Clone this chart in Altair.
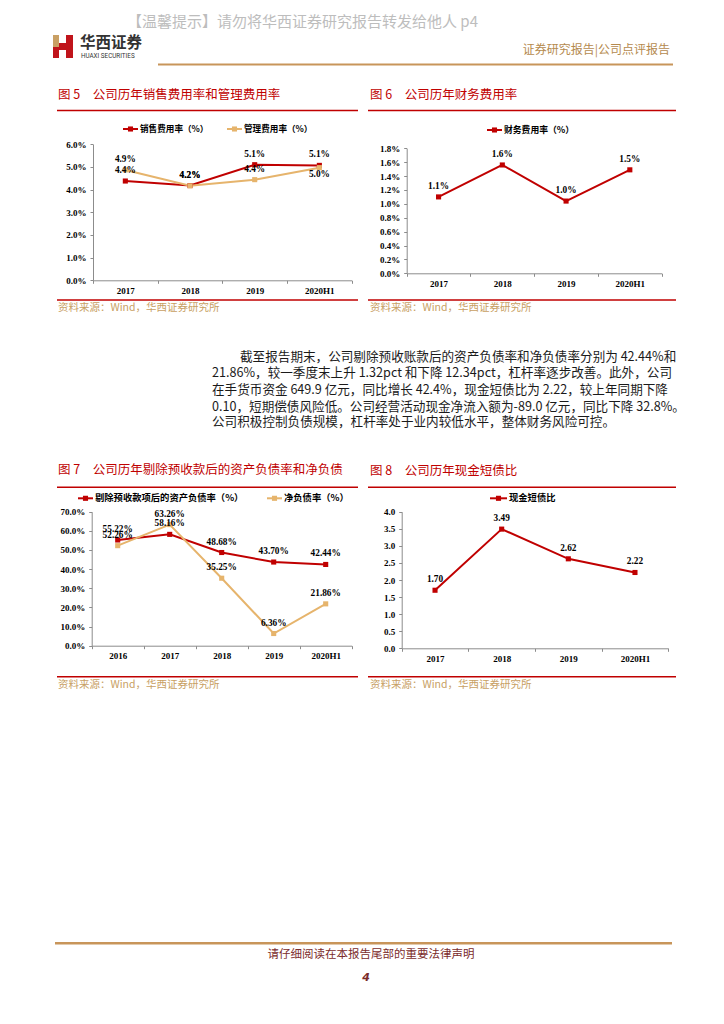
import altair as alt
import pandas as pd

# ---------------- data ----------------
years_a = ["2017", "2018", "2019", "2020H1"]
sales_names = ["销售费用率（%）", "管理费用率（%）"]
sales_rate = [4.38, 4.18, 5.10, 5.07]
admin_rate = [4.87, 4.17, 4.44, 4.97]

finance_names = ["财务费用率（%）"]
finance_rate = [1.10, 1.56, 1.04, 1.49]

years_b = ["2016", "2017", "2018", "2019", "2020H1"]
debt_names = ["剔除预收款项后的资产负债率（%）", "净负债率（%）"]
asset_liab_rate = [55.22, 58.16, 48.68, 43.70, 42.44]
net_debt_rate = [52.26, 63.26, 35.25, 6.36, 21.86]

cash_names = ["现金短债比"]
cash_debt_ratio = [1.70, 3.49, 2.62, 2.22]

ticks_a = [0, 1, 2, 3, 4, 5, 6]
ticks_b = [0.0, 0.2, 0.4, 0.6, 0.8, 1.0, 1.2, 1.4, 1.6, 1.8]
ticks_c = [0, 10, 20, 30, 40, 50, 60, 70]
ticks_d = [0.0, 0.5, 1.0, 1.5, 2.0, 2.5, 3.0, 3.5, 4.0]

para_lines = [
    "截至报告期末，公司剔除预收账款后的资产负债率和净负债率分别为 42.44%和",
    "21.86%，较一季度末上升 1.32pct 和下降 12.34pct，杠杆率逐步改善。此外，公司",
    "在手货币资金 649.9 亿元，同比增长 42.4%，现金短债比为 2.22，较上年同期下降",
    "0.10，短期偿债风险低。公司经营活动现金净流入额为-89.0 亿元，同比下降 32.8%。",
    "公司积极控制负债规模，杠杆率处于业内较低水平，整体财务风险可控。",
]

# ---------------- style ----------------
W, H = 708, 1008
M = 8
RED = "#C00000"
GOLD = "#E6B46C"
TAN = "#C8A063"
CJK = "Noto Sans CJK SC"
SERIF = "Liberation Serif"


def P(v):
    return v - M


AX = dict(
    grid=False, title=None, domainColor="#8C8C8C", domainWidth=1,
    tickColor="#8C8C8C", tickSize=3, tickWidth=1,
    labelFont=SERIF, labelFontSize=9, labelFontWeight="bold",
    labelColor="#000000",
)


def text_at(txt, x, y, size, color, font=CJK, weight="normal",
            align="left", baseline="middle", style="normal"):
    return alt.Chart(pd.DataFrame({"t": [txt]})).mark_text(
        align=align, baseline=baseline, fontSize=size, font=font,
        fontWeight=weight, color=color, fontStyle=style,
    ).encode(x=alt.value(P(x)), y=alt.value(P(y)), text="t:N")


def hline(x1, x2, y, color, width):
    return alt.Chart(pd.DataFrame({"a": [0]})).mark_rule(
        color=color, strokeWidth=width
    ).encode(x=alt.value(P(x1)), x2=alt.value(P(x2)), y=alt.value(P(y)))


def box(x1, x2, y1, y2, color):
    return alt.Chart(pd.DataFrame({"a": [0]})).mark_rect(color=color).encode(
        x=alt.value(P(x1)), x2=alt.value(P(x2)),
        y=alt.value(P(y1)), y2=alt.value(P(y2)))


def legend_item(x, y, color, label, size, length=15):
    seg = hline(x, x + length, y, color, 2)
    sq = alt.Chart(pd.DataFrame({"a": [0]})).mark_square(
        color=color, opacity=1, size=26
    ).encode(x=alt.value(P(x + length / 2)), y=alt.value(P(y)))
    txt = text_at(label, x + length + 2, y, size, "#000000", weight="bold")
    return [seg, sq, txt]


def panel(years, names, series, colors, x0, x1, y0, y1, ymax, yticks,
          tick_suffix, lab_dec, lab_suffix, below=()):
    rows = []
    for name, vals in zip(names, series):
        for yr, v in zip(years, vals):
            rows.append({"year": yr, "series": name, "value": v,
                         "label": f"{v:.{lab_dec}f}{lab_suffix}"})
    df = pd.DataFrame(rows)
    is_below = df.apply(lambda r: (r["series"], r["year"]) in below, axis=1)
    df_above = df[~is_below]
    df_below = df[is_below]

    xenc = alt.X(
        "year:N", sort=years, title=None,
        scale=alt.Scale(type="band", domain=years, range=[P(x0), P(x1)],
                        paddingInner=0, paddingOuter=0),
        axis=alt.Axis(orient="bottom", offset=P(y0) - H, labelAngle=0,
                      tickBand="extent", labelPadding=3, **AX),
    )
    yenc = alt.Y(
        "value:Q", title=None,
        scale=alt.Scale(domain=[0, ymax], range=[P(y0), P(y1)],
                        nice=False, zero=True),
        axis=alt.Axis(orient="left", offset=-P(x0), values=yticks,
                      labelExpr=f"format(datum.value, '.1f') + '{tick_suffix}'",
                      labelPadding=4, **AX),
    )
    cscale = alt.Scale(domain=names, range=colors)

    lines = alt.Chart(df).mark_line(strokeWidth=2).encode(
        x=xenc, y=yenc,
        color=alt.Color("series:N", scale=cscale, legend=None),
    )
    pts = alt.Chart(df).mark_square(opacity=1, size=26).encode(
        x=xenc, y=yenc,
        color=alt.Color("series:N", scale=cscale, legend=None),
    )
    lab_above = alt.Chart(df_above).mark_text(
        dy=-11, font=SERIF, fontSize=9.3, fontWeight="bold", color="#000000"
    ).encode(x=xenc, y=yenc, text="label:N")
    layers = [lines, pts, lab_above]
    if len(df_below):
        lab_below = alt.Chart(df_below).mark_text(
            dy=6, font=SERIF, fontSize=9.3, fontWeight="bold", color="#000000"
        ).encode(x=xenc, y=yenc, text="label:N")
        layers.append(lab_below)
    return alt.layer(*layers)


# ---------------- charts ----------------
c5 = panel(years_a, sales_names, [sales_rate, admin_rate], [RED, GOLD],
           93, 351.7, 280.3, 144.3, 6, ticks_a, "%", 1, "%",
           below={("管理费用率（%）", "2020H1")})
c6 = panel(years_a, finance_names, [finance_rate], [RED],
           406.7, 661.7, 273.3, 148.3, 1.8, ticks_b, "%", 1, "%")
c7 = panel(years_b, debt_names, [asset_liab_rate, net_debt_rate], [RED, GOLD],
           91.7, 351.7, 645.7, 511.7, 70, ticks_c, "%", 2, "%")
c8 = panel(years_a, cash_names, [cash_debt_ratio], [RED],
           401.7, 668.3, 648.3, 511.7, 4, ticks_d, "", 2, "")

legends = (
    legend_item(123, 129, RED, sales_names[0], 8.6)
    + legend_item(227, 129, GOLD, sales_names[1], 8.6)
    + legend_item(487, 130, RED, finance_names[0], 8.8)
    + legend_item(78, 498.3, RED, debt_names[0], 9.3)
    + legend_item(267, 498.3, GOLD, debt_names[1], 9.3)
    + legend_item(490, 498.3, RED, cash_names[0], 9.3, length=17)
)

deco = [
    # header
    text_at("【温馨提示】请勿将华西证券研究报告转发给他人 p4", 127, 22, 15, "#BDBDBD"),
    box(53, 59, 35, 47, "#C9A064"),
    box(53, 59, 47, 58, "#C0141B"),
    box(59, 66, 43, 50, "#C0141B"),
    box(66, 73, 35, 58, "#C0141B"),
    text_at("华西证券", 80, 43, 15.5, "#333333", weight="bold"),
    text_at("HUAXI SECURITIES", 81, 55.5, 6.3, "#333333", font="Roboto"),
    text_at("证券研究报告|公司点评报告", 670, 50, 12, "#B58A4E", align="right"),
    hline(158, 673, 64.5, "#C8955A", 2),
    # figure titles & rules
    text_at("图 5　公司历年销售费用率和管理费用率", 58, 95, 12.5, RED),
    text_at("图 6　公司历年财务费用率", 370, 95, 12.5, RED),
    hline(57, 358, 110.5, RED, 1.5),
    hline(368, 676, 110.5, RED, 1.5),
    hline(57, 358, 300, RED, 1.5),
    hline(368, 676, 300, RED, 1.5),
    text_at("资料来源：Wind，华西证券研究所", 58, 308, 10.5, TAN),
    text_at("资料来源：Wind，华西证券研究所", 370, 308, 10.5, TAN),
    text_at("图 7　公司历年剔除预收款后的资产负债率和净负债", 58, 470, 12.5, RED),
    text_at("图 8　公司历年现金短债比", 370, 471, 12.5, RED),
    hline(57, 358, 487.3, RED, 1.5),
    hline(368, 676, 487.3, RED, 1.5),
    hline(57, 358, 676.7, RED, 1.5),
    hline(368, 676, 676.7, RED, 1.5),
    text_at("资料来源：Wind，华西证券研究所", 58, 685, 10.5, TAN),
    text_at("资料来源：Wind，华西证券研究所", 370, 685, 10.5, TAN),
    # footer
    hline(55, 672, 943.3, "#C8955A", 2.5),
    text_at("请仔细阅读在本报告尾部的重要法律声明", 371, 954.5, 11.5, "#7B2B2B",
            align="center"),
    text_at("4", 366, 978, 11, "#7B2B2B", font="DejaVu Sans", weight="bold",
            align="center", style="italic"),
]

para_y = [356.7, 373.3, 390.0, 406.7, 422.3]
para = []
for i, line in enumerate(para_lines):
    para.append(text_at(line, 240 if i == 0 else 212, para_y[i], 12.6,
                        "#1A1A1A"))

chart = alt.layer(*deco, *para, *legends, c5, c6, c7, c8).resolve_scale(
    x="independent", y="independent", color="independent"
).properties(
    width=W, height=H, padding=0,
    autosize=alt.AutoSizeParams(type="none"), background="white",
).configure_view(stroke=None)

chart.save("out.html", embed_options={"renderer": "svg", "actions": False})
